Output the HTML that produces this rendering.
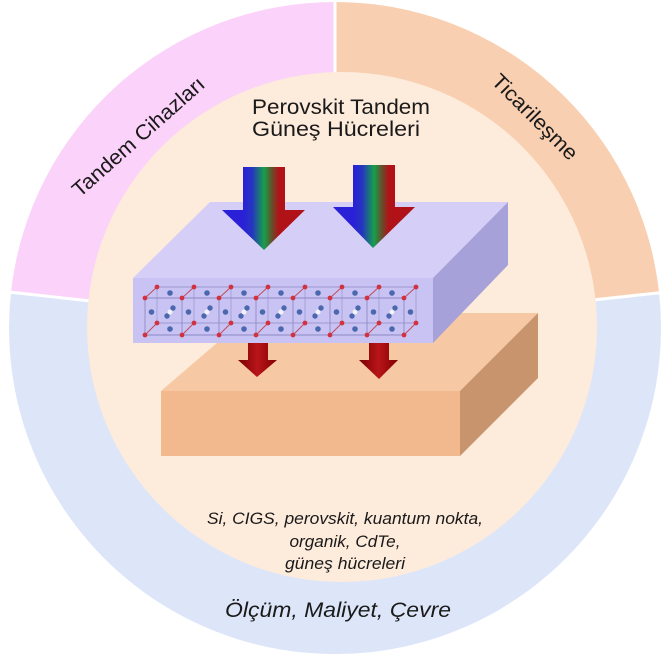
<!DOCTYPE html>
<html><head><meta charset="utf-8"><style>
html,body{margin:0;padding:0;background:#fff;}
svg{display:block;}
text{font-family:"Liberation Sans",sans-serif;}
</style></head><body>
<svg width="668" height="657" viewBox="0 0 668 657" xmlns="http://www.w3.org/2000/svg">
<defs>
  <linearGradient id="ga1" gradientUnits="userSpaceOnUse" x1="243" y1="0" x2="285" y2="0">
    <stop offset="0" stop-color="#2a20d8"/><stop offset="0.22" stop-color="#2535c0"/>
    <stop offset="0.5" stop-color="#16a04c"/><stop offset="0.7" stop-color="#6a4a28"/>
    <stop offset="0.85" stop-color="#b01218"/><stop offset="1" stop-color="#b01218"/>
  </linearGradient>
  <linearGradient id="ga2" gradientUnits="userSpaceOnUse" x1="353" y1="0" x2="395" y2="0">
    <stop offset="0" stop-color="#2a20d8"/><stop offset="0.22" stop-color="#2535c0"/>
    <stop offset="0.5" stop-color="#16a04c"/><stop offset="0.7" stop-color="#6a4a28"/>
    <stop offset="0.85" stop-color="#b01218"/><stop offset="1" stop-color="#b01218"/>
  </linearGradient>
  <linearGradient id="gr" x1="0" y1="0" x2="1" y2="0">
    <stop offset="0" stop-color="#7a0000"/><stop offset="0.5" stop-color="#b8151a"/><stop offset="1" stop-color="#820003"/>
  </linearGradient>
  <pattern id="lat" patternUnits="userSpaceOnUse" x="140" y="0" width="37" height="657">
    <line x1="5" y1="298" x2="5" y2="335" stroke="#8d8ac4" stroke-width="0.9"/>
    <line x1="17" y1="287" x2="17" y2="323" stroke="#8d8ac4" stroke-width="0.8" opacity="0.7"/>
    <line x1="5" y1="298" x2="17" y2="287" stroke="#c04a5a" stroke-width="1"/>
    <line x1="5" y1="335" x2="17" y2="323" stroke="#c04a5a" stroke-width="1"/>
    <circle cx="5" cy="298" r="2.4" fill="#d23240"/>
    <circle cx="17" cy="287" r="2.4" fill="#d23240"/>
    <circle cx="5" cy="335" r="2.4" fill="#d23240"/>
    <circle cx="17" cy="323" r="2.4" fill="#d23240"/>
    <circle cx="30" cy="293" r="2.8" fill="#4b67ad"/>
    <circle cx="11.5" cy="312" r="2.8" fill="#4b67ad"/>
    <circle cx="30" cy="329" r="2.8" fill="#4b67ad"/>
    <circle cx="27" cy="316" r="2.7" fill="#4b67ad"/>
    <circle cx="30" cy="312" r="2.5" fill="#f2f2f6"/>
    <circle cx="33" cy="308" r="2.7" fill="#4b67ad"/>
  </pattern>
</defs>

<!-- outer ring sectors -->
<path d="M335,328 L11,292.2 A326,326 0 0 1 335,2 Z" fill="#fbd2f9"/>
<path d="M335,328 L335,2 A326,326 0 0 1 659.1,292.8 Z" fill="#f9cfb1"/>
<path d="M335,328 L659.1,292.8 A326,326 0 1 1 11,292.2 Z" fill="#dde6f9"/>
<g stroke="#fff" stroke-width="3">
  <line x1="335" y1="328" x2="335" y2="0"/>
  <line x1="335" y1="328" x2="661" y2="292.6"/>
  <line x1="335" y1="328" x2="9" y2="292"/>
</g>

<!-- inner circle -->
<circle cx="342" cy="327" r="255" fill="#fdebdc"/>

<!-- ring labels -->
<text x="143" y="142" font-size="21" fill="#1a1a1a" text-anchor="middle" textLength="169" lengthAdjust="spacingAndGlyphs" transform="rotate(-41.5 143 142)">Tandem Cihazları</text>
<text x="530" y="122" font-size="21" fill="#1a1a1a" text-anchor="middle" textLength="112" lengthAdjust="spacingAndGlyphs" transform="rotate(45 530 122)">Ticarileşme</text>

<!-- title -->
<text x="341" y="114" font-size="21" fill="#1a1a1a" text-anchor="middle" textLength="178" lengthAdjust="spacingAndGlyphs">Perovskit Tandem</text>
<text x="336" y="136" font-size="21" fill="#1a1a1a" text-anchor="middle" textLength="168" lengthAdjust="spacingAndGlyphs">Güneş Hücreleri</text>

<!-- lower peach slab -->
<polygon points="161,391 252,313 538,313 460,391" fill="#f6c8a4"/>
<polygon points="460,391 538,313 538,378 460,456" fill="#c8946d"/>
<rect x="161" y="391" width="299" height="65" fill="#f3b98e"/>

<!-- lavender slab -->
<polygon points="133,278 210,202 508,202 433,278" fill="#d5cff8"/>
<polygon points="433,278 508,202 508,265 433,343" fill="#a6a1d8"/>
<rect x="133" y="278" width="300" height="65" fill="#c8c3f3"/>

<!-- lattice -->
<g stroke="#8d8ac4" stroke-width="0.9">
  <line x1="145" y1="298" x2="404" y2="298"/>
  <line x1="157" y1="287" x2="416" y2="287" opacity="0.7"/>
  <line x1="145" y1="335" x2="404" y2="335"/>
  <line x1="157" y1="323" x2="416" y2="323" opacity="0.7"/>
</g>
<rect x="140" y="280" width="279" height="60" fill="url(#lat)"/>

<!-- top spectrum arrows -->
<polygon points="243,167 285,167 285,210 305,210 264,250 222,210 243,210" fill="url(#ga1)"/>
<polygon points="353,165 395,165 395,207 415,207 373,248 333,207 353,207" fill="url(#ga2)"/>

<!-- lower red arrows -->
<polygon points="248,343 268,343 268,360 277,360 257,377 238,360 248,360" fill="url(#gr)"/>
<polygon points="369,343 389,343 389,360 398,360 379,379 359,360 369,360" fill="url(#gr)"/>

<!-- italic materials text -->
<g font-style="italic" font-size="17" fill="#1a1a1a" text-anchor="middle">
  <text x="345" y="524" textLength="276" lengthAdjust="spacingAndGlyphs">Si, CIGS, perovskit, kuantum nokta,</text>
  <text x="345" y="547" textLength="111" lengthAdjust="spacingAndGlyphs">organik, CdTe,</text>
  <text x="345" y="569" textLength="120" lengthAdjust="spacingAndGlyphs">güneş hücreleri</text>
</g>

<text x="338" y="617" font-style="italic" font-size="21" fill="#1a1a1a" text-anchor="middle" textLength="226" lengthAdjust="spacingAndGlyphs">Ölçüm, Maliyet, Çevre</text>
</svg>
</body></html>
